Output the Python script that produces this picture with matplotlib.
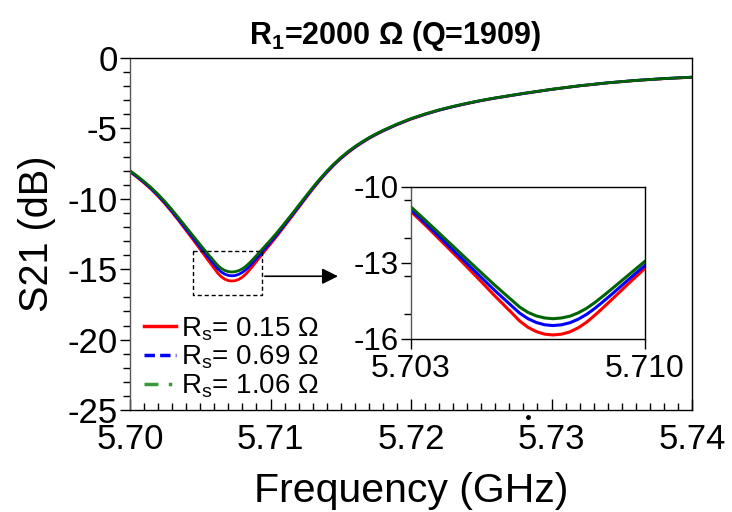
import matplotlib.pyplot as plt
from matplotlib.lines import Line2D
from matplotlib.ticker import MultipleLocator

plt.rcParams['font.family'] = ['Liberation Sans', 'DejaVu Sans']
plt.rcParams['axes.unicode_minus'] = False
plt.rcParams['mathtext.fontset'] = 'custom'
plt.rcParams['mathtext.rm'] = 'Liberation Sans'
plt.rcParams['mathtext.it'] = 'Liberation Sans'
plt.rcParams['mathtext.bf'] = 'Liberation Sans:bold'

freq = [5.7000, 5.7005, 5.7010, 5.7015, 5.7020, 5.7025, 5.7030, 5.7035, 5.7040, 5.7045,
        5.7050, 5.7055, 5.7060, 5.70625, 5.7065, 5.70675, 5.7070, 5.70725, 5.7075, 5.70775,
        5.7080, 5.70825, 5.7085, 5.70875, 5.7090, 5.7095, 5.7100, 5.7105, 5.7110, 5.7115,
        5.7120, 5.7125, 5.7130, 5.7135, 5.7140, 5.7145, 5.7150, 5.7155, 5.7160, 5.7165,
        5.7170, 5.7175, 5.7180, 5.7190, 5.7200, 5.7210, 5.7220, 5.7230, 5.7240, 5.7250,
        5.7260, 5.7280, 5.7300, 5.7320, 5.7340, 5.7360, 5.7380, 5.7400]

s21_rs015 = [-8.08, -8.47, -8.88, -9.32, -9.82, -10.37, -10.97, -11.60, -12.26, -12.92,
             -13.60, -14.29, -14.95, -15.29, -15.54, -15.71, -15.81, -15.84, -15.81, -15.72,
             -15.56, -15.34, -15.06, -14.76, -14.45, -13.82, -13.21, -12.59, -11.94, -11.29,
             -10.63, -9.97, -9.32, -8.71, -8.14, -7.62, -7.15, -6.74, -6.36, -6.03,
             -5.72, -5.45, -5.19, -4.74, -4.34, -4.01, -3.71, -3.46, -3.24, -3.03,
             -2.85, -2.53, -2.23, -1.98, -1.77, -1.60, -1.47, -1.37]

s21_rs069 = [-8.05, -8.43, -8.83, -9.27, -9.76, -10.30, -10.89, -11.52, -12.16, -12.80,
             -13.44, -14.08, -14.68, -14.98, -15.20, -15.35, -15.44, -15.47, -15.44, -15.36,
             -15.22, -15.03, -14.79, -14.52, -14.24, -13.66, -13.09, -12.49, -11.86, -11.21,
             -10.56, -9.91, -9.27, -8.66, -8.10, -7.58, -7.12, -6.70, -6.33, -6.00,
             -5.69, -5.42, -5.17, -4.72, -4.32, -3.99, -3.70, -3.45, -3.22, -3.02,
             -2.84, -2.52, -2.23, -1.97, -1.76, -1.59, -1.46, -1.36]

s21_rs106 = [-8.00, -8.37, -8.77, -9.20, -9.68, -10.21, -10.79, -11.40, -12.02, -12.64,
             -13.26, -13.87, -14.45, -14.74, -14.95, -15.09, -15.17, -15.20, -15.17, -15.10,
             -14.97, -14.79, -14.56, -14.30, -14.03, -13.48, -12.93, -12.35, -11.74, -11.11,
             -10.47, -9.83, -9.20, -8.60, -8.04, -7.53, -7.07, -6.66, -6.29, -5.96,
             -5.66, -5.39, -5.14, -4.69, -4.30, -3.97, -3.68, -3.43, -3.21, -3.01,
             -2.83, -2.51, -2.22, -1.97, -1.76, -1.59, -1.46, -1.36]

labels = [r'R$_\mathregular{s}$= 0.15 $\Omega$', r'R$_\mathregular{s}$= 0.69 $\Omega$',
          r'R$_\mathregular{s}$= 1.06 $\Omega$']
colors = ['red', 'blue', '#006400']

fig = plt.figure(figsize=(7.32, 5.12), dpi=100)
ax = fig.add_axes([0.1776, 0.1992, 0.7678, 0.6875])

for ys, c in zip([s21_rs015, s21_rs069, s21_rs106], colors):
    ax.plot(freq, ys, color=c, lw=2)

ax.set_xlim(5.70, 5.74)
ax.set_ylim(-25, 0)
ax.set_xticks([5.70, 5.71, 5.72, 5.73, 5.74])
ax.set_xticklabels(['5.70', '5.71', '5.72', '5.73', '5.74'])
ax.xaxis.set_minor_locator(MultipleLocator(0.001))
ax.yaxis.set_major_locator(MultipleLocator(5))
ax.yaxis.set_minor_locator(MultipleLocator(1))
ax.tick_params(axis='x', which='major', direction='in', length=8, width=1, labelsize=25, pad=9)
ax.tick_params(axis='x', which='minor', direction='in', length=5, width=1)
ax.tick_params(axis='y', which='major', direction='out', length=7, width=1, labelsize=25, pad=2)
ax.tick_params(axis='y', which='minor', direction='out', length=5, width=1)
for sp in ax.spines.values():
    sp.set_linewidth(1)
ax.spines['left'].set_color('#555555')

ax.set_xlabel('Frequency (GHz)', fontsize=29.5, labelpad=12)
ax.set_ylabel('S21 (dB)', fontsize=28.5, labelpad=8)
ax.set_title(r'R$_\mathbf{1}$=2000 $\mathbf{\Omega}$ (Q=1909)', fontsize=22, fontweight='bold',
             pad=10, x=0.472)

# dashed box around the dip and arrow to the inset
ax.plot([5.7045, 5.7094, 5.7094, 5.7045, 5.7045], [-13.7, -13.7, -16.8, -16.8, -13.7],
        color='black', lw=1, ls=(0, (3, 2)))
ax.annotate('', xy=(5.7150, -15.5), xytext=(5.7094, -15.5),
            arrowprops=dict(arrowstyle='-|>', color='black', lw=1.2, mutation_scale=24))

handles = [Line2D([], [], color='red', lw=2.5),
           Line2D([], [], color='blue', lw=2.5, ls=(0, (3, 1.5))),
           Line2D([], [], color='#3a9a3a', lw=2.5, ls=(0, (4, 3, 1, 3)))]
ax.legend(handles, labels, loc='lower left', bbox_to_anchor=(-0.005, -0.02), frameon=False,
          fontsize=20, handlelength=1.15, handletextpad=0.2, labelspacing=0.05,
          borderaxespad=0.2)

# stray dot above the 5.73 label, as in the original figure
fig.add_artist(Line2D([0.7213], [0.1855], marker='o', ms=2.5, color='black',
                      transform=fig.transFigure))

# inset
ins = fig.add_axes([0.5615, 0.3379, 0.3197, 0.2969])
for ys, c in zip([s21_rs015, s21_rs069, s21_rs106], colors):
    ins.plot(freq, ys, color=c, lw=2.2)
ins.set_xlim(5.703, 5.710)
ins.set_ylim(-16, -10)
ins.set_xticks([5.703, 5.710])
ins.set_xticklabels(['5.703', '5.710'])
ins.set_yticks([-10, -13, -16])
ins.yaxis.set_minor_locator(MultipleLocator(1.5))
ins.tick_params(axis='x', which='major', direction='out', length=7, width=1, labelsize=23, pad=4)
ins.tick_params(axis='y', which='major', direction='out', length=7, width=1, labelsize=22.5, pad=2)
ins.tick_params(axis='y', which='minor', direction='out', length=5, width=1)
for sp in ins.spines.values():
    sp.set_linewidth(1)
ins.spines['left'].set_color('#555555')

fig.savefig('out.png', dpi=100)
